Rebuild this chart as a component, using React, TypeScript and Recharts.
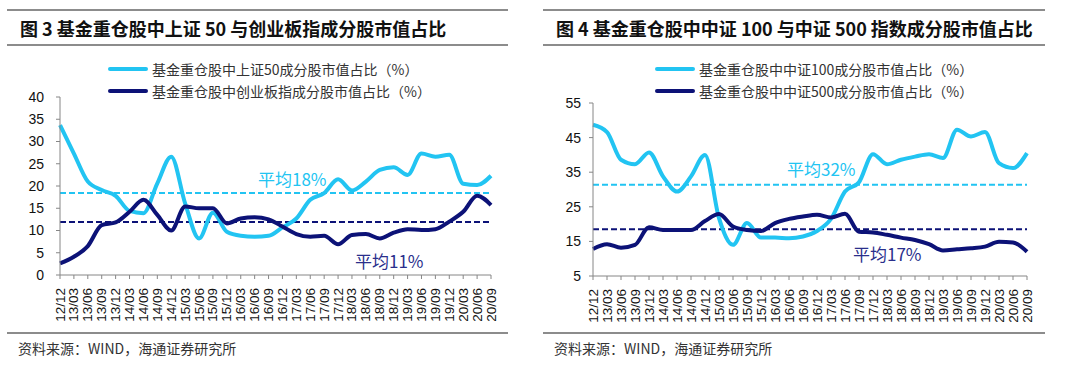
import { LineChart, Line, XAxis, YAxis, ReferenceLine } from "recharts";

// quarter ends, 2012Q4 .. 2020Q3
const quarters = [
  "12/12", "13/03", "13/06", "13/09", "13/12", "14/03", "14/06", "14/09",
  "14/12", "15/03", "15/06", "15/09", "15/12", "16/03", "16/06", "16/09",
  "16/12", "17/03", "17/06", "17/09", "17/12", "18/03", "18/06", "18/09",
  "18/12", "19/03", "19/06", "19/09", "19/12", "20/03", "20/06", "20/09",
];

// 图3
const sz50Share = [
  33.7, 27.3, 21.0, 19.1, 17.8, 14.4, 13.9, 20.6, 26.6, 16.1, 8.2, 14.0,
  9.7, 8.8, 8.6, 8.8, 10.7, 12.7, 16.9, 18.4, 21.5, 19.0, 21.0, 23.6, 24.2,
  22.5, 27.3, 26.6, 27.0, 20.5, 20.2, 22.3,
];
const cybShare = [
  2.6, 4.1, 6.5, 11.2, 11.8, 14.2, 16.9, 13.5, 10.0, 15.4, 15.0, 15.0, 11.6,
  12.7, 13.0, 12.5, 10.9, 9.2, 8.6, 8.8, 6.9, 9.0, 9.2, 8.2, 9.5, 10.3, 10.1,
  10.3, 12.0, 14.2, 17.8, 15.7,
];
const fig3Avg = [18.4, 11.9];
const fig3Ticks = [0, 5, 10, 15, 20, 25, 30, 35, 40];

// 图4
const zz100Share = [
  48.7, 46.6, 38.6, 37.3, 40.7, 33.8, 29.4, 33.8, 40.0, 21.7, 14.0, 20.3,
  16.1, 16.1, 15.9, 16.4, 18.0, 21.5, 29.4, 32.1, 40.2, 37.3, 38.6, 39.5,
  40.2, 39.1, 47.3, 45.3, 46.6, 37.6, 36.2, 40.5,
];
const zz500Share = [
  12.8, 14.2, 13.2, 14.0, 19.1, 18.3, 18.3, 18.3, 20.9, 22.9, 19.3, 18.3,
  18.0, 20.3, 21.5, 22.2, 22.7, 21.9, 23.0, 17.8, 17.6, 16.9, 16.1, 15.4,
  14.2, 12.4, 12.7, 13.0, 13.5, 14.9, 14.7, 12.0,
];
const fig4Avg = [31.4, 18.5];
const fig4Ticks = [5, 10, 15, 20, 25, 30, 35, 40, 45, 50, 55];

const LIGHT = "#22C4F2";
const DARK = "#0C1277";
const CJK = '"Noto Sans CJK SC", "Liberation Sans", sans-serif';
const NUM = '"Liberation Sans", Arial, sans-serif';

const QTick = ({ x, y, payload }: any) => (
  <text
    x={x}
    y={y + 7}
    transform={`rotate(-90, ${x}, ${y + 7})`}
    textAnchor="end"
    dominantBaseline="central"
    fontSize={13.5}
    fontFamily={NUM}
    fill="#111"
  >
    {payload.value}
  </text>
);

const avgLabel = (text: string, color: string, dx: number, dy: number) => (p: any) => {
  const vb = p.viewBox || {};
  return (
    <text x={vb.x + dx} y={vb.y + dy} fill={color} fontSize={17} fontFamily={CJK}>
      {text}
    </text>
  );
};

interface PanelProps {
  left: number;
  ruleLeft: number;
  ruleWidth: number;
  title: string;
  names: string[];
  a: number[];
  b: number[];
  avg: number[];
  ticks: number[];
  yWidth: number;
  marginTop: number;
  marginRight: number;
  xHeight: number;
  tickMargin: number;
  labels: { dx: number; dy: number; text: string }[];
}

function Panel(p: PanelProps) {
  const data = quarters.map((d, i) => ({ d, a: p.a[i], b: p.b[i] }));
  const lo = p.ticks[0];
  const hi = p.ticks[p.ticks.length - 1];
  return (
    <>
      <div style={{ position: "absolute", left: p.ruleLeft, top: 9, width: p.ruleWidth, height: 2, background: "#8c8c8c" }} />
      <div
        style={{
          position: "absolute", left: p.ruleLeft + 13, top: 16, fontSize: 18, fontWeight: 700,
          fontFamily: CJK, color: "#111", whiteSpace: "nowrap", lineHeight: "24px",
        }}
      >
        {p.title}
      </div>
      <div style={{ position: "absolute", left: p.ruleLeft, top: 44, width: p.ruleWidth, height: 2, background: "#8c8c8c" }} />
      <div style={{ position: "absolute", left: p.left, top: 0 }}>
        <LineChart
          width={540}
          height={330}
          data={data}
          margin={{ top: p.marginTop, right: p.marginRight, bottom: 0, left: 0 }}
        >
          <XAxis
            dataKey="d"
            interval={0}
            height={p.xHeight}
            tickSize={4}
            tick={<QTick />}
            axisLine={{ stroke: "#868686" }}
            tickLine={{ stroke: "#868686" }}
          />
          <YAxis
            domain={[lo, hi]}
            ticks={p.ticks}
            width={p.yWidth}
            tickSize={4}
            tickMargin={p.tickMargin}
            tick={{ fontSize: 14, fontFamily: NUM, fill: "#111" }}
            axisLine={{ stroke: "#868686" }}
            tickLine={{ stroke: "#868686" }}
          />
          <ReferenceLine
            y={p.avg[0]}
            stroke={LIGHT}
            strokeWidth={2}
            strokeDasharray="6 3"
            label={avgLabel(p.labels[0].text, LIGHT, p.labels[0].dx, p.labels[0].dy)}
          />
          <ReferenceLine
            y={p.avg[1]}
            stroke={DARK}
            strokeWidth={2}
            strokeDasharray="6 3"
            label={avgLabel(p.labels[1].text, "#2A2F8C", p.labels[1].dx, p.labels[1].dy)}
          />
          <Line type="monotone" dataKey="a" stroke={LIGHT} strokeWidth={4} dot={false} isAnimationActive={false} />
          <Line type="monotone" dataKey="b" stroke={DARK} strokeWidth={4} dot={false} isAnimationActive={false} />
        </LineChart>
      </div>
      {p.names.map((n, i) => (
        <div
          key={n}
          style={{
            position: "absolute", left: p.left + (p.left ? 115 : 108), top: 60 + i * 22, height: 18,
            display: "flex", alignItems: "center", whiteSpace: "nowrap",
          }}
        >
          <span style={{ width: 40, height: 4, borderRadius: 2, background: i ? DARK : LIGHT, marginRight: 4 }} />
          <span style={{ fontSize: 14, fontFamily: CJK, color: "#333" }}>{n}</span>
        </div>
      ))}
      <div style={{ position: "absolute", left: p.ruleLeft, top: 332, width: p.ruleWidth, height: 2, background: "#8c8c8c" }} />
      <div
        style={{
          position: "absolute", left: p.ruleLeft + 11, top: 338, fontSize: 14,
          fontFamily: CJK, color: "#333", whiteSpace: "nowrap", lineHeight: "20px",
        }}
      >
        资料来源：WIND，海通证券研究所
      </div>
    </>
  );
}

export default function App() {
  return (
    <div style={{ position: "fixed", left: 0, top: 0, width: 1080, height: 369, background: "#fff", overflow: "hidden" }}>
      <Panel
        left={0}
        ruleLeft={7}
        ruleWidth={501}
        title="图 3  基金重仓股中上证 50 与创业板指成分股市值占比"
        names={["基金重仓股中上证50成分股市值占比（%）", "基金重仓股中创业板指成分股市值占比（%）"]}
        a={sz50Share}
        b={cybShare}
        avg={fig3Avg}
        ticks={fig3Ticks}
        yWidth={60}
        marginTop={97}
        marginRight={49}
        xHeight={55}
        tickMargin={12}
        labels={[
          { text: "平均18%", dx: 198, dy: -7 },
          { text: "平均11%", dx: 295, dy: 46 },
        ]}
      />
      <Panel
        left={540}
        ruleLeft={543}
        ruleWidth={502}
        title="图 4  基金重仓股中中证 100 与中证 500 指数成分股市值占比"
        names={["基金重仓股中中证100成分股市值占比（%）", "基金重仓股中中证500成分股市值占比（%）"]}
        a={zz100Share}
        b={zz500Share}
        avg={fig4Avg}
        ticks={fig4Ticks}
        yWidth={53}
        marginTop={103}
        marginRight={53}
        xHeight={54}
        tickMargin={8}
        labels={[
          { text: "平均32%", dx: 194, dy: -9 },
          { text: "平均17%", dx: 260, dy: 32 },
        ]}
      />
    </div>
  );
}
